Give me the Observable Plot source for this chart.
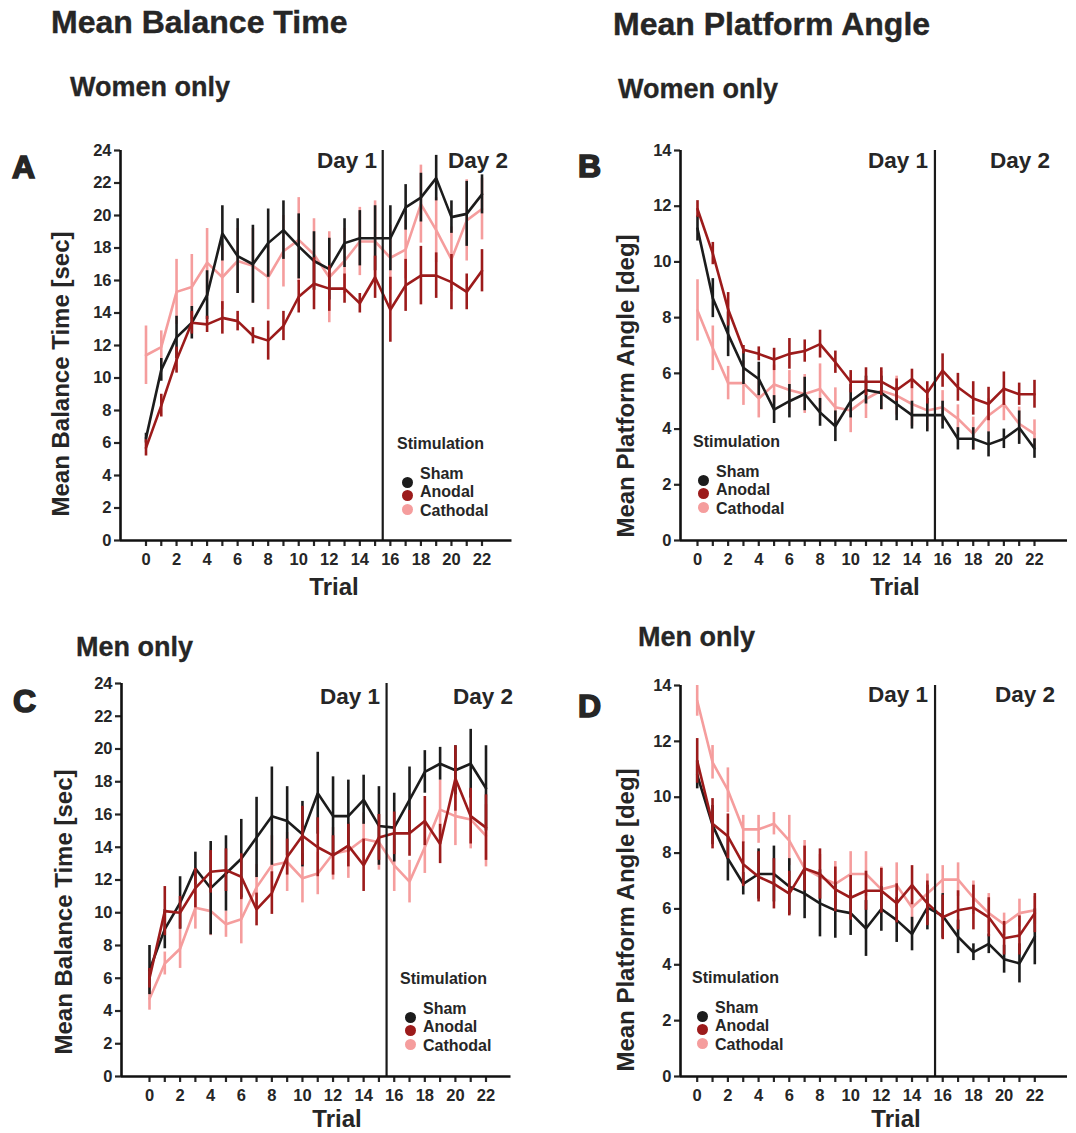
<!DOCTYPE html>
<html><head><meta charset="utf-8">
<script src="https://cdn.jsdelivr.net/npm/d3@7"></script>
<script src="https://cdn.jsdelivr.net/npm/@observablehq/plot@0.6"></script>
<style>
body{margin:0;background:#fff;font-family:"Liberation Sans",Arial,sans-serif;color:#262626}
#root{position:relative;width:1076px;height:1133px;overflow:hidden;background:#fff}
.t{position:absolute;font-weight:bold;white-space:nowrap;line-height:1}
g[aria-label="x-axis tick"] path, g[aria-label="y-axis tick"] path, .tick line{stroke-width:2.2px}
</style></head><body><div id="root"></div>
<script>
const trials = d3.range(0, 23);
const seriesNames = ["Sham", "Anodal", "Cathodal"];
const colors = ["#1c1c1c", "#9c1b1b", "#f59d9d"];
const yTicksBalance = d3.range(0, 25, 2);
const yTicksAngle = d3.range(0, 15, 2);

// Panel A: Women, Mean Balance Time [sec]
const A_sham = [6.3, 10.5, 12.5, 13.4, 15.1, 18.9, 17.5, 17.0, 18.3, 19.1, 18.1, 17.2, 16.7, 18.3, 18.6, 18.6, 18.6, 20.5, 21.1, 22.3, 19.9, 20.1, 21.3];
const A_sham_err = [0.3, 0.7, 1.3, 1.0, 1.5, 1.7, 2.3, 2.4, 2.1, 1.8, 2.0, 1.8, 1.9, 1.5, 1.7, 2.0, 2.0, 1.4, 1.5, 1.4, 1.0, 2.0, 1.2];
const A_anod = [5.7, 8.3, 11.1, 13.4, 13.3, 13.7, 13.5, 12.6, 12.3, 13.2, 15.0, 15.8, 15.5, 15.5, 14.6, 16.2, 14.2, 15.7, 16.3, 16.3, 15.9, 15.3, 16.6];
const A_anod_err = [0.5, 0.7, 0.8, 0.7, 0.5, 1.0, 0.6, 0.5, 1.2, 0.9, 1.0, 1.6, 1.4, 0.9, 0.6, 1.3, 2.0, 1.6, 1.8, 1.4, 1.7, 1.1, 1.3];
const A_cath = [11.4, 11.9, 15.3, 15.6, 17.1, 16.2, 17.2, 16.9, 16.2, 17.8, 18.5, 17.6, 16.2, 17.2, 18.4, 18.4, 17.4, 17.9, 20.7, 19.1, 17.3, 19.7, 20.4];
const A_cath_err = [1.8, 1.0, 2.0, 2.0, 2.1, 2.0, 2.0, 2.3, 2.0, 2.2, 2.6, 2.2, 2.8, 2.0, 2.1, 2.5, 2.0, 1.8, 2.4, 2.0, 2.0, 2.5, 1.9];

// Panel B: Women, Mean Platform Angle [deg]
const B_sham = [11.2, 8.7, 7.4, 6.2, 5.8, 4.7, 5.0, 5.26, 4.6, 4.1, 5.0, 5.4, 5.3, 4.9, 4.5, 4.5, 4.5, 3.65, 3.65, 3.45, 3.65, 4.05, 3.3];
const B_sham_err = [0.45, 0.7, 0.8, 0.6, 0.6, 0.5, 0.6, 0.6, 0.5, 0.55, 0.6, 0.5, 0.6, 0.6, 0.5, 0.6, 0.5, 0.4, 0.4, 0.45, 0.35, 0.6, 0.35];
const B_anod = [11.9, 10.3, 8.3, 6.85, 6.7, 6.5, 6.7, 6.8, 7.05, 6.4, 5.7, 5.7, 5.7, 5.4, 5.8, 5.3, 6.1, 5.5, 5.1, 4.9, 5.45, 5.25, 5.25];
const B_anod_err = [0.3, 0.4, 0.6, 0.15, 0.25, 0.4, 0.55, 0.4, 0.5, 0.4, 0.4, 0.5, 0.5, 0.4, 0.35, 0.4, 0.6, 0.5, 0.6, 0.6, 0.6, 0.4, 0.5];
const B_cath = [8.26, 6.9, 5.65, 5.65, 5.1, 5.6, 5.4, 5.26, 5.44, 4.78, 4.67, 5.08, 5.38, 5.2, 4.9, 4.67, 4.78, 4.37, 3.83, 4.49, 4.9, 4.19, 3.83];
const B_cath_err = [1.1, 0.8, 0.6, 0.8, 0.7, 0.7, 0.7, 0.7, 0.9, 0.7, 0.8, 0.7, 0.7, 0.7, 0.8, 0.7, 0.6, 0.5, 0.6, 0.6, 0.6, 0.6, 0.5];

// Panel C: Men, Mean Balance Time [sec]
const C_sham = [6.5, 9.0, 10.6, 12.7, 11.5, 12.4, 13.3, 14.6, 15.9, 15.6, 14.8, 17.3, 15.9, 15.9, 16.9, 15.3, 15.2, 16.9, 18.6, 19.1, 18.7, 19.1, 17.6];
const C_sham_err = [1.5, 1.2, 1.6, 1.0, 2.85, 2.3, 2.4, 2.45, 3.0, 2.1, 2.0, 2.5, 2.4, 2.2, 1.5, 2.4, 2.1, 2.0, 1.3, 1.0, 1.5, 2.1, 2.6];
const C_anod = [6.0, 10.1, 10.0, 11.5, 12.5, 12.6, 12.2, 10.2, 11.2, 13.4, 14.7, 14.0, 13.5, 14.1, 12.9, 14.6, 14.85, 14.85, 15.6, 14.2, 18.2, 15.9, 15.2];
const C_anod_err = [0.6, 1.5, 1.0, 1.2, 1.3, 1.3, 1.4, 1.0, 1.3, 1.1, 1.8, 1.8, 1.2, 1.3, 1.6, 1.4, 1.3, 1.4, 1.5, 1.2, 2.0, 1.7, 2.0];
const C_cath = [4.75, 6.9, 7.8, 10.3, 10.1, 9.3, 9.6, 11.55, 12.9, 13.1, 12.1, 12.4, 13.6, 13.8, 14.5, 14.3, 12.9, 11.9, 14.0, 16.3, 15.9, 15.7, 14.7];
const C_cath_err = [0.7, 0.7, 1.2, 1.3, 1.5, 0.8, 1.5, 1.4, 1.8, 1.8, 1.5, 1.3, 1.6, 1.7, 1.6, 1.7, 1.6, 1.3, 1.6, 1.8, 1.8, 1.8, 1.9];

// Panel D: Men, Mean Platform Angle [deg]
const D_sham = [10.8, 9.0, 7.8, 6.9, 7.25, 7.25, 6.8, 6.55, 6.2, 5.95, 5.85, 5.3, 6.0, 5.6, 5.1, 6.05, 5.75, 5.0, 4.45, 4.75, 4.2, 4.05, 5.0];
const D_sham_err = [0.5, 0.7, 0.8, 0.4, 0.9, 1.0, 1.0, 0.9, 1.2, 1.0, 0.8, 1.0, 0.8, 0.8, 0.6, 0.8, 0.8, 0.6, 0.3, 0.35, 0.5, 0.7, 1.0];
const D_anod = [11.3, 9.05, 8.6, 7.6, 7.15, 6.9, 6.55, 7.45, 7.25, 6.7, 6.4, 6.65, 6.65, 6.2, 6.85, 6.2, 5.7, 5.95, 6.05, 5.7, 4.95, 5.05, 5.85];
const D_anod_err = [0.8, 0.9, 0.8, 0.8, 0.9, 0.9, 0.8, 0.8, 0.9, 0.8, 0.8, 0.7, 0.8, 0.7, 0.7, 0.8, 0.8, 0.7, 0.8, 0.7, 0.6, 0.7, 0.7];
const D_cath = [13.45, 11.25, 10.25, 8.85, 8.85, 9.05, 8.45, 7.45, 7.15, 6.9, 7.25, 7.25, 6.7, 6.85, 6.05, 6.55, 7.05, 7.05, 6.4, 5.85, 5.45, 5.85, 5.95];
const D_cath_err = [0.55, 0.6, 0.8, 0.5, 0.5, 0.4, 0.9, 1.0, 0.8, 0.8, 0.8, 0.8, 0.8, 0.8, 0.8, 0.7, 0.5, 0.6, 0.6, 0.7, 0.4, 0.5, 0.5];

const root = document.getElementById("root");
const FONT = "'Liberation Sans', Arial, Helvetica, sans-serif";

function addText(str, o) {
  const d = document.createElement("div");
  d.className = "t";
  d.textContent = str;
  const size = o.size;
  d.style.fontSize = size + "px";
  d.style.color = o.color || "#262626";
  if (o.stroke) d.style.webkitTextStroke = o.stroke + "px " + (o.color || "#262626");
  if (o.rotate) {
    d.style.left = (o.cx) + "px";
    d.style.top = (o.cy) + "px";
    d.style.transform = "translate(-50%,-50%) rotate(-90deg)";
  } else {
    const top = o.baseline - 0.8465 * size;
    d.style.top = top + "px";
    if (o.right !== undefined) {
      d.style.left = (o.right - 400) + "px";
      d.style.width = "400px";
      d.style.textAlign = "right";
    } else if (o.center !== undefined) {
      d.style.left = (o.center - 200) + "px";
      d.style.width = "400px";
      d.style.textAlign = "center";
    } else {
      d.style.left = o.left + "px";
    }
  }
  root.appendChild(d);
}

function addDot(cx, cy, r, color) {
  const d = document.createElement("div");
  d.style.position = "absolute";
  d.style.left = (cx - r) + "px";
  d.style.top = (cy - r) + "px";
  d.style.width = (2 * r) + "px";
  d.style.height = (2 * r) + "px";
  d.style.borderRadius = "50%";
  d.style.background = color;
  root.appendChild(d);
}

const panels = [
  {id: "A", means: [A_sham, A_anod, A_cath], errs: [A_sham_err, A_anod_err, A_cath_err], ymax: 24, yticks: yTicksBalance,
   axisX: 119.5, right: 511, top: 150, bottom: 540, t0: 145, t22: 481},
  {id: "B", means: [B_sham, B_anod, B_cath], errs: [B_sham_err, B_anod_err, B_cath_err], ymax: 14, yticks: yTicksAngle,
   axisX: 680, right: 1067, top: 150, bottom: 540, t0: 697, t22: 1034},
  {id: "C", means: [C_sham, C_anod, C_cath], errs: [C_sham_err, C_anod_err, C_cath_err], ymax: 24, yticks: yTicksBalance,
   axisX: 120.5, right: 510, top: 683, bottom: 1076, t0: 148.5, t22: 485},
  {id: "D", means: [D_sham, D_anod, D_cath], errs: [D_sham_err, D_anod_err, D_cath_err], ymax: 14, yticks: yTicksAngle,
   axisX: 680, right: 1067, top: 685, bottom: 1076, t0: 696.7, t22: 1034.3}
];

const drawOrder = ["Cathodal", "Sham", "Anodal"];

panels.forEach(p => {
  const ml = 60, mr = 10, mt = 10, mb = 40;
  const W = ml + (p.right - p.axisX) + mr;
  const H = mt + (p.bottom - p.top) + mb;
  const k = (p.t22 - p.t0) / 22;
  const xl = (p.axisX - p.t0) / k;
  const xr = (p.right - p.t0) / k;
  const rows = [];
  seriesNames.forEach((s, i) => p.means[i].forEach((m, t) => rows.push({series: s, trial: trials[t], mean: m, err: p.errs[i][t]})));
  const seriesMarks = drawOrder.flatMap(s => {
    const r = rows.filter(d => d.series === s);
    return [
      Plot.ruleX(r, {x: "trial", y1: d => d.mean - d.err, y2: d => d.mean + d.err, stroke: "series", strokeWidth: 2.6}),
      Plot.line(r, {x: "trial", y: "mean", stroke: "series", strokeWidth: 2.6, strokeLinejoin: "miter"})
    ];
  });
  const chart = Plot.plot({
    width: W, height: H, marginLeft: ml, marginRight: mr, marginTop: mt, marginBottom: mb,
    style: {background: "transparent", fontFamily: FONT, fontSize: "16.5px", fontWeight: "bold", color: "#262626", overflow: "visible"},
    x: {domain: [xl, xr], ticks: trials, tickFormat: d => (d % 2 === 0 ? String(d) : ""), tickSize: 6, tickPadding: 7, label: null},
    y: {domain: [0, p.ymax], ticks: p.yticks, tickSize: 6, tickPadding: 3, label: null},
    color: {domain: seriesNames, range: colors},
    marks: [
      ...seriesMarks,
      Plot.ruleX([15.5], {stroke: "#1a1a1a", strokeWidth: 2.2}),
      Plot.ruleY([0], {stroke: "#111", strokeWidth: 2.6}),
      Plot.ruleX([xl], {stroke: "#111", strokeWidth: 2.6})
    ]
  });
  chart.style.position = "absolute";
  chart.style.left = (p.axisX - ml) + "px";
  chart.style.top = (p.top - mt) + "px";
  chart.style.maxWidth = "none";
  root.appendChild(chart);
});

// Titles
addText("Mean Balance Time", {left: 51, baseline: 33, size: 32, stroke: 0.4});
addText("Mean Platform Angle", {left: 613, baseline: 35, size: 32, stroke: 0.4});
addText("Women only", {left: 70, baseline: 97, size: 27, stroke: 0.3});
addText("Women only", {left: 618, baseline: 99, size: 27, stroke: 0.3});
addText("Men only", {left: 76, baseline: 657, size: 27, stroke: 0.3});
addText("Men only", {left: 638, baseline: 647, size: 27, stroke: 0.3});

// Panel letters
addText("A", {left: 12, baseline: 178, size: 32, stroke: 1.6});
addText("B", {left: 578, baseline: 177, size: 32, stroke: 1.6});
addText("C", {left: 13, baseline: 712, size: 32, stroke: 1.6});
addText("D", {left: 578, baseline: 717, size: 32, stroke: 1.6});

// Y-axis labels
addText("Mean Balance Time [sec]", {rotate: true, cx: 61, cy: 374, size: 24});
addText("Mean Platform Angle [deg]", {rotate: true, cx: 626, cy: 386, size: 24});
addText("Mean Balance Time [sec]", {rotate: true, cx: 64, cy: 912, size: 24});
addText("Mean Platform Angle [deg]", {rotate: true, cx: 626, cy: 920, size: 24});

// X-axis labels
addText("Trial", {center: 334, baseline: 595, size: 24});
addText("Trial", {center: 895, baseline: 595, size: 24});
addText("Trial", {center: 337, baseline: 1127, size: 24});
addText("Trial", {center: 896, baseline: 1127, size: 24});

// Day labels
[[377, 508, 169], [928, 1050, 169], [380, 513, 705], [928, 1055, 703]].forEach(([r1, r2, b]) => {
  addText("Day 1", {right: r1, baseline: b, size: 22.5});
  addText("Day 2", {right: r2, baseline: b, size: 22.5});
});

// Legends
[[397, 450], [693, 448], [400, 985], [692, 984]].forEach(([sx, sy]) => {
  addText("Stimulation", {left: sx, baseline: sy, size: 16});
  const tb = [30, 48, 67], db = [32, 45, 59];
  seriesNames.forEach((s, i) => {
    addDot(sx + 10, sy + db[i], 5.5, colors[i]);
    addText(s, {left: sx + 23, baseline: sy + tb[i], size: 16});
  });
});
</script>
</body></html>
